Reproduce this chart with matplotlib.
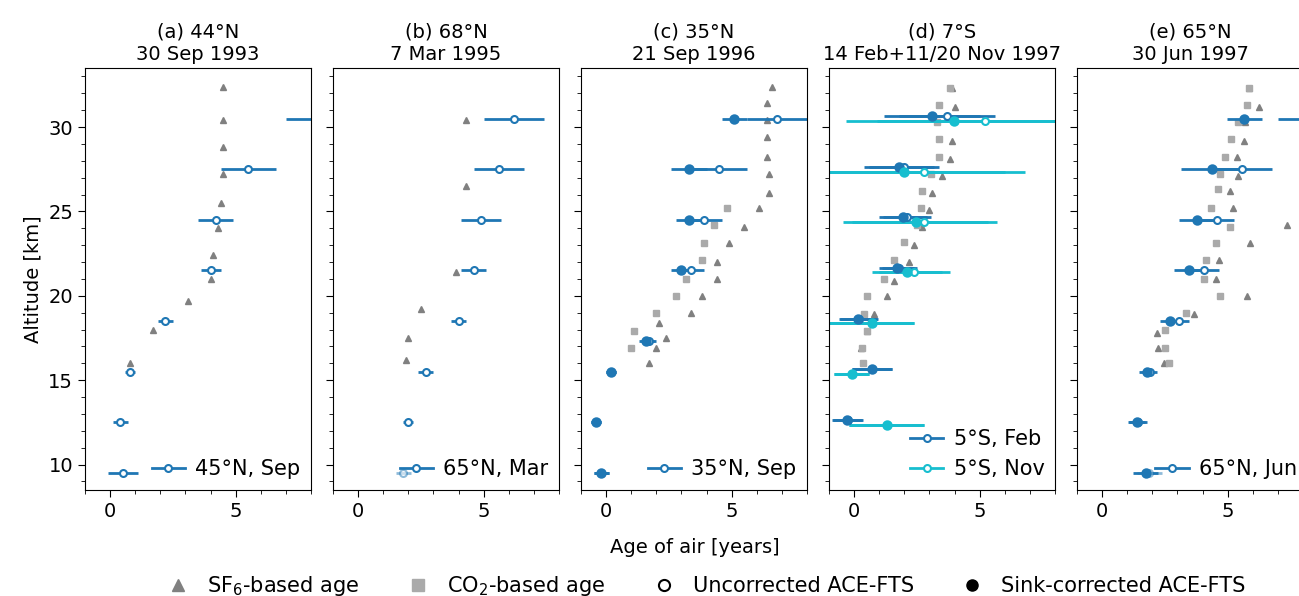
import numpy as np
import matplotlib.pyplot as plt
from matplotlib.lines import Line2D

plt.rcParams['font.size'] = 14

blue = '#1f77b4'
cyan = '#17becf'
tri_c = '#808080'
sq_c = '#aaaaaa'

titles = ['(a) 44°N\n30 Sep 1993', '(b) 68°N\n7 Mar 1995', '(c) 35°N\n21 Sep 1996',
          '(d) 7°S\n14 Feb+11/20 Nov 1997', '(e) 65°N\n30 Jun 1997']

# SF6-based age (age, altitude)
sf6_a_x = [4.5, 4.5, 4.5, 4.5, 4.4, 4.3, 4.1, 4.0, 3.1, 1.7, 0.8]
sf6_a_y = [32.4, 30.4, 28.8, 27.2, 25.5, 24.0, 22.4, 21.0, 19.7, 18.0, 16.0]
sf6_b_x = [4.3, 4.3, 3.9, 2.5, 2.0, 1.9]
sf6_b_y = [30.4, 26.5, 21.4, 19.2, 17.5, 16.2]
sf6_c_x = [6.6, 6.4, 6.4, 6.4, 6.4, 6.5, 6.5, 6.1, 5.5, 4.9, 4.4, 4.4, 3.8, 3.4, 2.1, 2.4, 2.0, 1.7]
sf6_c_y = [32.4, 31.4, 30.4, 29.4, 28.2, 27.2, 26.1, 25.2, 24.1, 23.1, 22.0, 21.0, 20.0, 19.0, 18.4, 17.5, 16.9, 16.0]
sf6_d_x = [3.9, 4.0, 3.9, 3.8, 3.5, 3.1, 3.0, 2.7, 2.4, 2.2, 1.6, 1.3, 0.8, 0.5, 0.27]
sf6_d_y = [32.3, 31.2, 29.2, 28.1, 27.1, 26.1, 25.1, 24.1, 23.0, 22.0, 20.9, 20.0, 18.9, 17.9, 16.9]
sf6_e_x = [5.84, 6.24, 5.7, 5.64, 5.37, 5.4, 5.1, 5.2, 7.36, 5.87, 4.64, 4.55, 5.75, 3.64, 2.2, 2.23, 2.47]
sf6_e_y = [32.3, 31.2, 30.3, 29.2, 28.2, 27.1, 26.2, 25.2, 24.2, 23.1, 22.1, 21.0, 20.0, 18.9, 17.8, 16.9, 16.0]

# CO2-based age
co2_c_x = [4.8, 4.3, 3.9, 3.8, 3.2, 2.8, 2.0, 1.1, 1.0]
co2_c_y = [25.2, 24.2, 23.1, 22.1, 21.0, 20.0, 19.0, 17.9, 16.9]
co2_d_x = [3.8, 3.4, 3.3, 3.4, 3.4, 3.05, 2.7, 2.65, 2.5, 2.0, 1.6, 1.2, 0.5, 0.4, 0.5, 0.33, 0.35]
co2_d_y = [32.3, 31.3, 30.3, 29.3, 28.2, 27.2, 26.2, 25.2, 24.2, 23.2, 22.1, 21.0, 20.0, 18.9, 17.9, 16.9, 16.0]
co2_e_x = [5.84, 5.76, 5.4, 5.15, 4.88, 4.7, 4.6, 4.35, 5.1, 4.55, 4.12, 4.04, 4.68, 3.36, 2.5, 2.5, 2.67]
co2_e_y = [32.3, 31.3, 30.3, 29.3, 28.2, 27.2, 26.3, 25.2, 24.1, 23.1, 22.1, 21.0, 20.0, 19.0, 18.0, 16.9, 16.0]

# ACE-FTS: uncorrected (open) and sink-corrected (filled), with x errors
alt = [9.5, 12.5, 15.5, 18.5, 21.5, 24.5, 27.5, 30.5]
unc_a = [0.5, 0.4, 0.8, 2.2, 4.0, 4.2, 5.5, 8.5]
unc_a_err = [0.6, 0.3, 0.2, 0.3, 0.4, 0.7, 1.1, 1.5]
unc_b = [1.8, 2.0, 2.7, 4.0, 4.6, 4.9, 5.6, 6.2]
unc_b_err = [0.3, 0.2, 0.3, 0.3, 0.5, 0.8, 1.0, 1.2]
alt_c = [9.5, 12.5, 15.5, 17.3, 21.5, 24.5, 27.5, 30.5]
unc_c = [-0.2, -0.4, 0.2, 1.7, 3.4, 3.9, 4.5, 6.8]
unc_c_err = [0.3, 0.2, 0.2, 0.3, 0.5, 0.7, 1.1, 1.2]
cor_c = [-0.2, -0.4, 0.2, 1.6, 3.0, 3.3, 3.3, 5.1]
cor_c_err = [0.3, 0.2, 0.2, 0.3, 0.4, 0.5, 0.7, 0.5]
alt_feb = [12.65, 15.65, 18.65, 21.65, 24.65, 27.65, 30.65]
unc_feb = [-0.25, 0.7, 0.2, 1.8, 2.1, 2.0, 3.7]
cor_feb = [-0.27, 0.7, 0.16, 1.7, 1.96, 1.8, 3.1]
feb_err = [0.6, 0.8, 0.75, 0.7, 0.95, 1.4, 1.9]
alt_nov = [12.35, 15.35, 18.4, 21.4, 24.35, 27.35, 30.35]
unc_nov = [1.3, -0.1, 0.7, 2.4, 2.8, 2.8, 5.2]
cor_nov = [1.3, -0.1, 0.7, 2.1, 2.45, 2.0, 3.96]
nov_err = [1.5, 0.7, 1.7, 1.4, 2.9, 4.0, 4.3]
unc_e = [1.87, 1.43, 1.9, 3.07, 4.07, 4.56, 5.56, 8.5]
unc_e_err = [0.5, 0.35, 0.3, 0.4, 0.6, 0.7, 1.2, 1.5]
cor_e = [1.73, 1.37, 1.77, 2.69, 3.47, 3.77, 4.36, 5.67]
cor_e_err = [0.5, 0.35, 0.3, 0.4, 0.6, 0.7, 1.2, 0.7]

fig = plt.figure(figsize=(12.99, 5.96), dpi=100)
axs = []
for i in range(5):
    left = (85 + i * 248) / 1299
    axs.append(fig.add_axes([left, 0.178, 226 / 1299, 0.708]))

def tri(ax, x, y):
    ax.plot(x, y, '^', color=tri_c, ms=5, ls='')

def sq(ax, x, y):
    ax.plot(x, y, 's', color=sq_c, ms=5, ls='')

def ace(ax, x, y, err, c, filled, alpha=1.0):
    fc = c if filled else 'white'
    ms = 6 if filled else 5
    return ax.errorbar(x, y, xerr=err, fmt='o', color=c, mfc=fc, mec=c, ms=ms, mew=1.5,
                       elinewidth=2, capsize=0, alpha=alpha)

def leg_handle(c):
    return Line2D([], [], color=c, marker='o', mfc='white', mew=1.5, lw=2, ms=5)

leg_kw = dict(frameon=False, handlelength=1.6, borderaxespad=0.1, handletextpad=0.5,
              fontsize=15)

ax = axs[0]
tri(ax, sf6_a_x, sf6_a_y)
ace(ax, unc_a, alt, unc_a_err, blue, False)
ax.legend([leg_handle(blue)], ['45°N, Sep'], loc='lower right', **leg_kw)

ax = axs[1]
tri(ax, sf6_b_x, sf6_b_y)
ace(ax, unc_b[:1], alt[:1], unc_b_err[:1], blue, False, alpha=0.5)
ace(ax, unc_b[1:], alt[1:], unc_b_err[1:], blue, False)
ax.legend([leg_handle(blue)], ['65°N, Mar'], loc='lower right', **leg_kw)

ax = axs[2]
tri(ax, sf6_c_x, sf6_c_y)
sq(ax, co2_c_x, co2_c_y)
ace(ax, unc_c, alt_c, unc_c_err, blue, False)
ace(ax, cor_c, alt_c, cor_c_err, blue, True)
ax.legend([leg_handle(blue)], ['35°N, Sep'], loc='lower right', **leg_kw)

ax = axs[3]
tri(ax, sf6_d_x, sf6_d_y)
sq(ax, co2_d_x, co2_d_y)
ace(ax, unc_feb, alt_feb, feb_err, blue, False)
ace(ax, cor_feb, alt_feb, feb_err, blue, True)
ace(ax, unc_nov, alt_nov, nov_err, cyan, False)
ace(ax, cor_nov, alt_nov, nov_err, cyan, True)
ax.legend([leg_handle(blue), leg_handle(cyan)], ['5°S, Feb', '5°S, Nov'],
          loc='lower right', **leg_kw)

ax = axs[4]
tri(ax, sf6_e_x, sf6_e_y)
sq(ax, co2_e_x, co2_e_y)
ace(ax, unc_e[:1], alt[:1], unc_e_err[:1], blue, False, alpha=0.5)
ace(ax, unc_e[1:], alt[1:], unc_e_err[1:], blue, False)
ace(ax, cor_e, alt, cor_e_err, blue, True)
ax.legend([leg_handle(blue)], ['65°N, Jun'], loc='lower left',
          bbox_to_anchor=(0.3, 0.0), **leg_kw)

for i, ax in enumerate(axs):
    ax.set_xlim(-1, 8)
    ax.set_ylim(8.5, 33.5)
    ax.set_xticks([0, 5])
    ax.set_xticks(np.arange(-1, 9), minor=True)
    ax.set_yticks([10, 15, 20, 25, 30])
    ax.set_yticks(np.arange(9, 34), minor=True)
    ax.tick_params(which='major', length=5)
    ax.tick_params(which='minor', length=3)
    ax.set_title(titles[i], fontsize=14)
    if i > 0:
        ax.set_yticklabels([])

axs[0].set_ylabel('Altitude [km]')
fig.text(0.535, 0.072, 'Age of air [years]', ha='center', fontsize=14)

handles = [Line2D([], [], marker='^', color=tri_c, ls='', ms=8),
           Line2D([], [], marker='s', color=sq_c, ls='', ms=8),
           Line2D([], [], marker='o', color='k', mfc='white', ls='', ms=8, mew=1.5),
           Line2D([], [], marker='o', color='k', ls='', ms=8)]
labels = ['SF$_6$-based age', 'CO$_2$-based age', 'Uncorrected ACE-FTS', 'Sink-corrected ACE-FTS']
fig.legend(handles, labels, loc='lower center', bbox_to_anchor=(0.54, -0.035), ncol=4,
           frameon=False, columnspacing=1.8, handletextpad=0.4, fontsize=15)

fig.savefig('out.png', dpi=100)
